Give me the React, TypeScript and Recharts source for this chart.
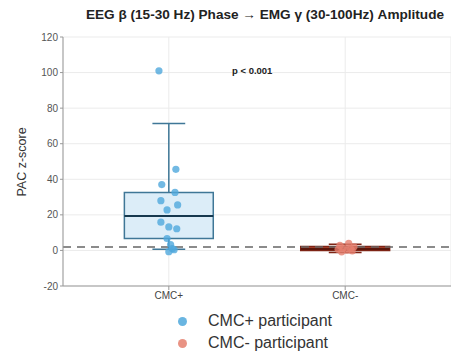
import { ComposedChart, Scatter, XAxis, YAxis, CartesianGrid, ReferenceArea, ReferenceLine } from "recharts";

const categories = ["CMC+", "CMC-"];
const yTicks = [-20, 0, 20, 40, 60, 80, 100, 120];

// participant z-scores and their horizontal jitter
const cmcPlusValues = [101, 45.6, 37, 32.6, 28, 25.6, 22.8, 15.9, 13.2, 12.2, 6.7, 3.3, 1, 0.4, -0.7];
const cmcPlusJitter = [-0.056, 0.04, -0.04, 0.035, -0.045, 0.05, -0.01, -0.045, 0, 0.045, -0.01, 0.01, 0.02, 0.03, 0];
const cmcMinusValues = [4, 2.8, 2, 1.5, 1, 0.6, 0.2, -0.3, -0.8];
const cmcMinusJitter = [0.02, -0.03, 0.05, -0.01, 0.03, -0.04, 0.01, 0.04, -0.02];

// [lower whisker, q1, median, q3, upper whisker]
const cmcPlusBox = [0.6, 6.7, 19.4, 32.6, 71.3];
const cmcMinusBox = [-1.2, 0, 0.8, 2.2, 3.5];

const threshold = 1.96;
const pValueText = "p < 0.001";
const title = "EEG β (15-30 Hz) Phase → EMG γ (30-100Hz) Amplitude";

const BLUE = "#4fa8dc";
const RED = "#e5806f";

const plusPts = cmcPlusValues.map((y, i) => ({ x: 1 + cmcPlusJitter[i], y }));
const minusPts = cmcMinusValues.map((y, i) => ({ x: 2 + cmcMinusJitter[i], y }));

const BOX_W = 0.252;
const CAP_W = 0.093;

function boxElements(pos: number, s: number[], fill: string, stroke: string, med: string, key: string) {
  const [lo, q1, m, q3, hi] = s;
  return [
    <ReferenceLine key={key + "w1"} segment={[{ x: pos, y: q3 }, { x: pos, y: hi }]} stroke={stroke} strokeWidth={1.5} />,
    <ReferenceLine key={key + "w2"} segment={[{ x: pos, y: lo }, { x: pos, y: q1 }]} stroke={stroke} strokeWidth={1.5} />,
    <ReferenceLine key={key + "c1"} segment={[{ x: pos - CAP_W, y: hi }, { x: pos + CAP_W, y: hi }]} stroke={stroke} strokeWidth={1.5} />,
    <ReferenceLine key={key + "c2"} segment={[{ x: pos - CAP_W, y: lo }, { x: pos + CAP_W, y: lo }]} stroke={stroke} strokeWidth={1.5} />,
    <ReferenceArea key={key + "b"} x1={pos - BOX_W} x2={pos + BOX_W} y1={q1} y2={q3} fill={fill} fillOpacity={1} stroke={stroke} strokeWidth={1.5} />,
    <ReferenceLine key={key + "m"} segment={[{ x: pos - BOX_W, y: m }, { x: pos + BOX_W, y: m }]} stroke={med} strokeWidth={2} />,
  ];
}

const dot = (color: string) => (p: any) => <circle cx={p.cx} cy={p.cy} r={3.6} fill={color} fillOpacity={0.8} />;

export default function App() {
  return (
    <div style={{ position: "absolute", left: 0, top: 0, width: 451, height: 353, background: "#fff", fontFamily: "'Liberation Sans', Arial, sans-serif" }}>
      <div style={{ position: "absolute", left: 60, width: 410, top: 7, textAlign: "center", fontSize: 13.6, fontWeight: "bold", color: "#222", whiteSpace: "nowrap" }}>{title}</div>
      <div style={{ position: "absolute", left: 22, top: 162, transform: "translate(-50%,-50%) rotate(-90deg)", fontSize: 12.5, color: "#333", whiteSpace: "nowrap" }}>PAC z-score</div>
      <ComposedChart width={451} height={308} margin={{ top: 37, right: 0, bottom: 0, left: 23 }}>
        <CartesianGrid stroke="#ebebeb" />
        <XAxis
          dataKey="x"
          type="number"
          domain={[0.4, 2.6]}
          ticks={[1, 2]}
          tickFormatter={(v: number) => categories[v - 1]}
          height={22}
          tick={{ fontSize: 10, fill: "#444" }}
          stroke="#999"
          tickSize={4}
        />
        <YAxis
          dataKey="y"
          type="number"
          domain={[-20, 120]}
          ticks={yTicks}
          width={40}
          tick={{ fontSize: 10, fill: "#555" }}
          stroke="#999"
          tickSize={3}
        />
        <ReferenceLine y={threshold} stroke="#666" strokeDasharray="8 6" strokeWidth={1.5} />
        {boxElements(1, cmcPlusBox, "#dcedf8", "#3f7797", "#16384e", "p")}
        {boxElements(2, cmcMinusBox, "#b0442f", "#7e2415", "#5a160b", "m")}
        <Scatter data={plusPts} name="CMC+ participant" shape={dot(BLUE)} isAnimationActive={false} />
        <Scatter data={minusPts} name="CMC- participant" shape={dot(RED)} isAnimationActive={false} />
      </ComposedChart>
      <div style={{ position: "absolute", left: 232, top: 65, fontSize: 9.5, fontWeight: "bold", color: "#222" }}>{pValueText}</div>
      <div style={{ position: "absolute", left: 178, top: 310, fontSize: 16, color: "#333", lineHeight: "22px" }}>
        <div style={{ display: "flex", alignItems: "center" }}>
          <span style={{ width: 9, height: 9, borderRadius: 5, background: BLUE, opacity: 0.85, marginRight: 21 }} />
          CMC+ participant
        </div>
        <div style={{ display: "flex", alignItems: "center" }}>
          <span style={{ width: 9, height: 9, borderRadius: 5, background: RED, opacity: 0.85, marginRight: 21 }} />
          CMC- participant
        </div>
      </div>
    </div>
  );
}
